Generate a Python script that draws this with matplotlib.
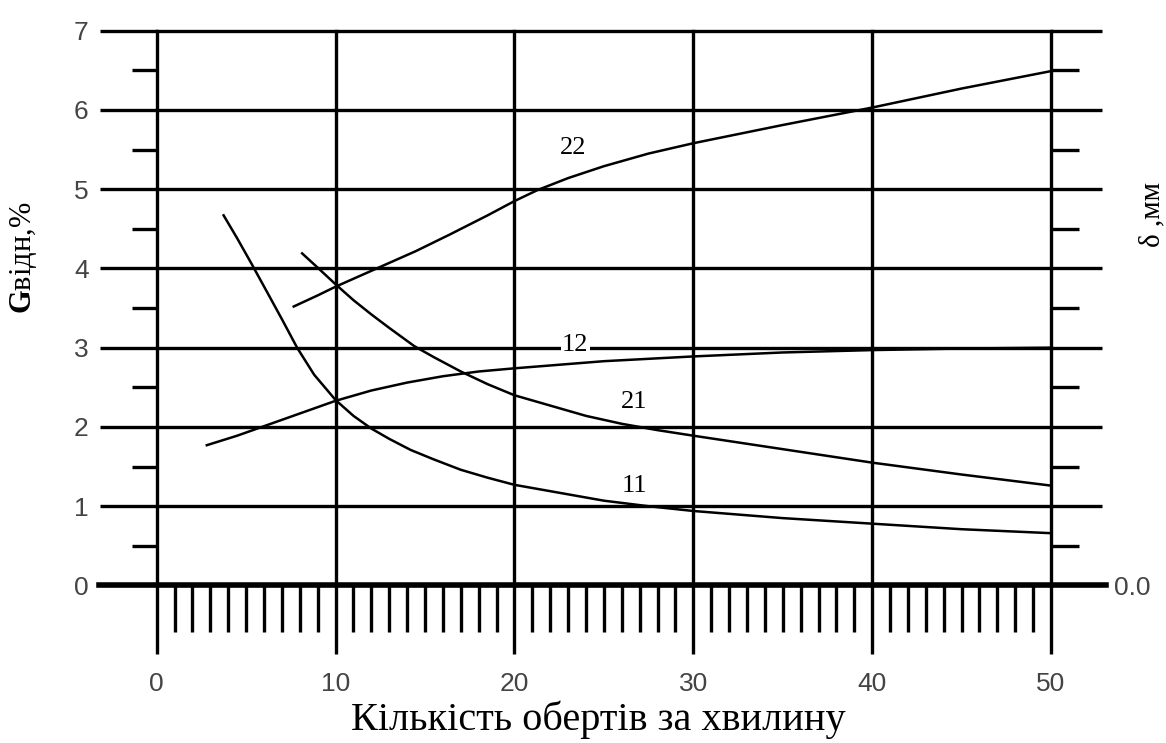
import numpy as np
import matplotlib
matplotlib.use('Agg')
import matplotlib.pyplot as plt

plt.rcParams['font.family'] = ['Liberation Serif', 'DejaVu Serif']
plt.rcParams['mathtext.fontset'] = 'custom'
plt.rcParams['mathtext.rm'] = 'Liberation Serif'
plt.rcParams['mathtext.bf'] = 'Liberation Serif:bold'

# curve 11
x11 = [3.74, 4.5, 5.3, 6.2, 7.0, 7.85, 8.8, 10.0, 11.0, 12.0, 13.0, 14.2, 15.5, 17.0,
       18.5, 20.0, 22.0, 25.0, 27.5, 30.0, 35.0, 40.0, 45.0, 50.0]
y11 = [4.67, 4.38, 4.06, 3.69, 3.36, 3.0, 2.66, 2.34, 2.14, 1.98, 1.85, 1.71, 1.59, 1.46,
       1.36, 1.27, 1.19, 1.07, 1.0, 0.94, 0.85, 0.78, 0.71, 0.66]
# curve 12
x12 = [2.8, 4.5, 6.0, 8.0, 10.0, 12.0, 14.0, 16.0, 18.0, 20.0, 25.0, 30.0, 35.0, 40.0, 45.0, 50.0]
y12 = [1.77, 1.89, 2.01, 2.17, 2.33, 2.46, 2.56, 2.64, 2.70, 2.74, 2.83, 2.89, 2.94, 2.97, 2.99, 3.0]
# curve 21
x21 = [8.13, 9.0, 10.0, 11.0, 12.0, 13.0, 14.4, 15.5, 17.0, 18.5, 20.0, 22.0, 24.0, 26.0,
       28.0, 30.0, 35.0, 40.0, 45.0, 50.0]
y21 = [4.19, 4.01, 3.80, 3.60, 3.42, 3.25, 3.02, 2.88, 2.70, 2.54, 2.40, 2.27, 2.14, 2.04,
       1.96, 1.89, 1.72, 1.55, 1.40, 1.26]
# curve 22
x22 = [7.66, 9.0, 10.0, 11.2, 12.3, 14.5, 16.4, 18.5, 20.0, 21.3, 23.0, 25.0, 27.5, 30.0,
       35.0, 40.0, 45.0, 50.0]
y22 = [3.52, 3.66, 3.77, 3.89, 4.0, 4.22, 4.43, 4.67, 4.85, 4.99, 5.14, 5.29, 5.45, 5.58,
       5.81, 6.03, 6.27, 6.49]

curves = [(x11, y11), (x12, y12), (x21, y21), (x22, y22)]
curve_names = ['11', '12', '21', '22']
name_pos = [(26.7, 1.26), (23.4, 3.03), (26.7, 2.32), (23.3, 5.52)]

x_major = np.arange(0, 51, 10)
x_minor = np.arange(0, 51, 1)
y_major = np.arange(0, 8, 1)
y_minor = np.arange(0.5, 7, 1)

fig = plt.figure(figsize=(11.66, 7.43), dpi=100)
ax = fig.add_axes([0.1344, 0.212, 0.767, 0.7467])
ax.set_xlim(0, 50)
ax.set_ylim(0, 7)
for s in ax.spines.values():
    s.set_visible(False)

lw_grid = 2.4
tick_col = '#444444'
num_font = ['Liberation Sans', 'DejaVu Sans']

ax.set_xticks(x_major)
ax.set_xticks(x_minor, minor=True)
ax.set_yticks(y_major)
ax.set_yticks(y_minor, minor=True)
ax.grid(which='major', color='black', lw=lw_grid)
# keep the edge grid lines at full width
for gl in ax.get_xgridlines() + ax.get_ygridlines():
    gl.set_clip_on(False)

ax.tick_params(axis='x', which='major', direction='out', length=50, width=lw_grid,
               pad=12, labelsize=19, labelcolor=tick_col)
ax.tick_params(axis='x', which='minor', direction='out', length=34, width=lw_grid)
ax.tick_params(axis='y', which='major', direction='out', length=41, width=lw_grid,
               pad=8, labelsize=19, labelcolor=tick_col)
ax.tick_params(axis='y', which='minor', direction='out', length=18, width=lw_grid)
for lab in ax.get_xticklabels() + ax.get_yticklabels():
    lab.set_family(num_font)

# heavier zero line
ax.axhline(0, xmin=-0.064, xmax=1.062, color='black', lw=4, clip_on=False, zorder=3)

# right-hand axis
ax2 = ax.twinx()
ax2.set_ylim(0, 7)
for s in ax2.spines.values():
    s.set_visible(False)
ax2.set_yticks(y_major, labels=['0.0'] + [''] * (len(y_major) - 1))
ax2.set_yticks(y_minor, minor=True)
ax2.tick_params(axis='y', which='major', direction='out', length=37, width=lw_grid,
                pad=8, labelsize=19, labelcolor=tick_col)
ax2.tick_params(axis='y', which='minor', direction='out', length=20, width=lw_grid)
for lab in ax2.get_yticklabels():
    lab.set_family(num_font)
ax2.set_ylabel('δ ,мм', fontsize=21, rotation=90, ha='center', va='center')
ax2.yaxis.set_label_coords(1.113, 0.668)

for (xs, ys) in curves:
    ax.plot(xs, ys, color='black', lw=1.8, zorder=4, solid_joinstyle='round')

for name, (tx, ty) in zip(curve_names, name_pos):
    kw = {}
    if name == '12':
        kw['bbox'] = dict(facecolor='white', edgecolor='none', pad=1)
    ax.text(tx, ty, name, fontsize=19, ha='center', va='center', zorder=5, **kw)

ax.set_xlabel('Кількість обертів за хвилину', fontsize=29, va='center')
ax.xaxis.set_label_coords(0.4935, -0.2424)
ax.set_ylabel(r'$\mathbf{G}$відн,%', fontsize=22, rotation=90, ha='center', va='center')
ax.yaxis.set_label_coords(-0.149, 0.590)

fig.savefig('out.png', dpi=100, facecolor='white')
